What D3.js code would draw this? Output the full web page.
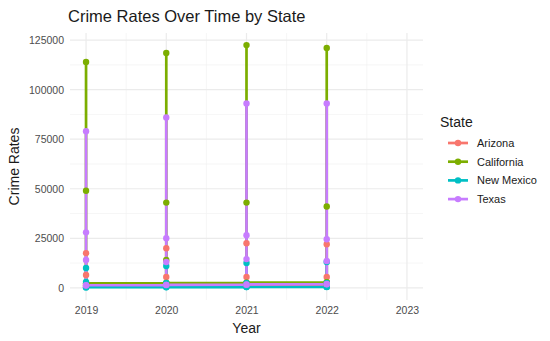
<!DOCTYPE html>
<html>
<head>
<meta charset="utf-8">
<script src="https://cdn.jsdelivr.net/npm/d3@7"></script>
<style>
  body { margin: 0; background: #fff; }
  svg { font-family: "Liberation Sans", Arial, sans-serif; }
</style>
</head>
<body>
<div id="chart"></div>
<script>
// years on the x axis
const years = [2019, 2020, 2021, 2022];
const xTicks = [2019, 2020, 2021, 2022, 2023];
const yTicks = [0, 25000, 50000, 75000, 100000, 125000];
const states = ["Arizona", "California", "New Mexico", "Texas"];
const colors = ["#F8766D", "#7CAE00", "#00BFC4", "#C77CFF"];

// values per year, listed in the order the line visits them
const arizona = [
  [900, 6500, 17500, 1000],
  [1000, 5500, 20000, 1100],
  [1100, 5500, 22500, 1200],
  [1200, 5500, 22000, 1300]
];
const california = [
  [2000, 49000, 114000, 2200],
  [2300, 14000, 43000, 118500, 2400],
  [2500, 43000, 122500, 2600],
  [2700, 41000, 121000, 2800]
];
const newMexico = [
  [200, 3000, 10000, 300],
  [300, 2500, 11000, 350],
  [350, 2500, 12500, 400],
  [400, 2500, 13000, 450]
];
const texas = [
  [1200, 14000, 28000, 79000, 1300],
  [1400, 13000, 25000, 86000, 1500],
  [1600, 14500, 26500, 93000, 1700],
  [1800, 13500, 24500, 93000, 1900]
];
const seriesValues = [arizona, california, newMexico, texas];

const svg = d3.select("#chart").append("svg")
    .attr("width", 550)
    .attr("height", 341);

const margin = {top: 33, right: 127, bottom: 41, left: 70};
const width = 550 - margin.left - margin.right,
    height = 341 - margin.top - margin.bottom;

const x = d3.scaleLinear().domain([2018.8, 2023.2]).range([0, width]);
const y = d3.scaleLinear().domain([-6150, 128600]).range([height, 0]);

const g = svg.append("g")
    .attr("transform", "translate(" + margin.left + "," + margin.top + ")");

// minor grid lines
const xMinor = [2019.5, 2020.5, 2021.5, 2022.5];
const yMinor = [12500, 37500, 62500, 87500, 112500];
g.selectAll(".xminor").data(xMinor).enter().append("line")
    .attr("x1", d => x(d)).attr("x2", d => x(d))
    .attr("y1", 0).attr("y2", height)
    .attr("stroke", "#f2f2f2").attr("stroke-width", 0.7);
g.selectAll(".yminor").data(yMinor).enter().append("line")
    .attr("x1", 0).attr("x2", width)
    .attr("y1", d => y(d)).attr("y2", d => y(d))
    .attr("stroke", "#f2f2f2").attr("stroke-width", 0.7);

// major grid lines
g.selectAll(".xmajor").data(xTicks).enter().append("line")
    .attr("x1", d => x(d)).attr("x2", d => x(d))
    .attr("y1", 0).attr("y2", height)
    .attr("stroke", "#ebebeb").attr("stroke-width", 1.2);
g.selectAll(".ymajor").data(yTicks).enter().append("line")
    .attr("x1", 0).attr("x2", width)
    .attr("y1", d => y(d)).attr("y2", d => y(d))
    .attr("stroke", "#ebebeb").attr("stroke-width", 1.2);

// axes (no domain line, no ticks, like theme_minimal)
const xAxis = g.append("g")
    .attr("transform", "translate(0," + height + ")")
    .call(d3.axisBottom(x).tickValues(xTicks).tickFormat(d3.format("d")).tickSize(0).tickPadding(7));
const yAxis = g.append("g")
    .call(d3.axisLeft(y).tickValues(yTicks).tickFormat(d3.format("d")).tickSize(0).tickPadding(6));
[xAxis, yAxis].forEach(a => {
    a.select(".domain").remove();
    a.selectAll("text").attr("fill", "#4d4d4d").style("font-size", "10.5px");
});

// flatten into points per state, in draw order
const seriesData = states.map((s, i) => {
    const pts = [];
    seriesValues[i].forEach((vals, j) => {
        vals.forEach(v => pts.push({year: years[j], value: v}));
    });
    return {state: s, color: colors[i], points: pts};
});

const line = d3.line().x(d => x(d.year)).y(d => y(d.value));

g.selectAll(".series").data(seriesData).enter().append("path")
    .attr("d", d => line(d.points))
    .attr("fill", "none")
    .attr("stroke", d => d.color)
    .attr("stroke-width", 2.7);

seriesData.forEach(s => {
    g.selectAll(null).data(s.points).enter().append("circle")
        .attr("cx", d => x(d.year))
        .attr("cy", d => y(d.value))
        .attr("r", 3.2)
        .attr("fill", s.color);
});

// title and axis labels
svg.append("text")
    .attr("x", 68)
    .attr("y", 22)
    .attr("fill", "#1a1a1a")
    .style("font-size", "16.5px")
    .text("Crime Rates Over Time by State");

svg.append("text")
    .attr("x", margin.left + width / 2)
    .attr("y", 333)
    .attr("text-anchor", "middle")
    .attr("fill", "#1a1a1a")
    .style("font-size", "14px")
    .text("Year");

svg.append("text")
    .attr("transform", "rotate(-90)")
    .attr("x", -(margin.top + height / 2))
    .attr("y", 19)
    .attr("text-anchor", "middle")
    .attr("fill", "#1a1a1a")
    .style("font-size", "14px")
    .text("Crime Rates");

// legend
const legend = svg.append("g").attr("transform", "translate(440,0)");
legend.append("text")
    .attr("x", 0).attr("y", 127)
    .attr("fill", "#1a1a1a")
    .style("font-size", "14px")
    .text("State");
const items = legend.selectAll(".item").data(seriesData).enter().append("g")
    .attr("transform", (d, i) => "translate(0," + (143 + i * 18.7) + ")");
items.append("line")
    .attr("x1", 8).attr("x2", 28)
    .attr("stroke", d => d.color).attr("stroke-width", 2.7);
items.append("circle")
    .attr("cx", 18).attr("r", 3.2).attr("fill", d => d.color);
items.append("text")
    .attr("x", 37).attr("y", 4)
    .attr("fill", "#1a1a1a")
    .style("font-size", "11px")
    .text(d => d.state);
</script>
</body>
</html>
